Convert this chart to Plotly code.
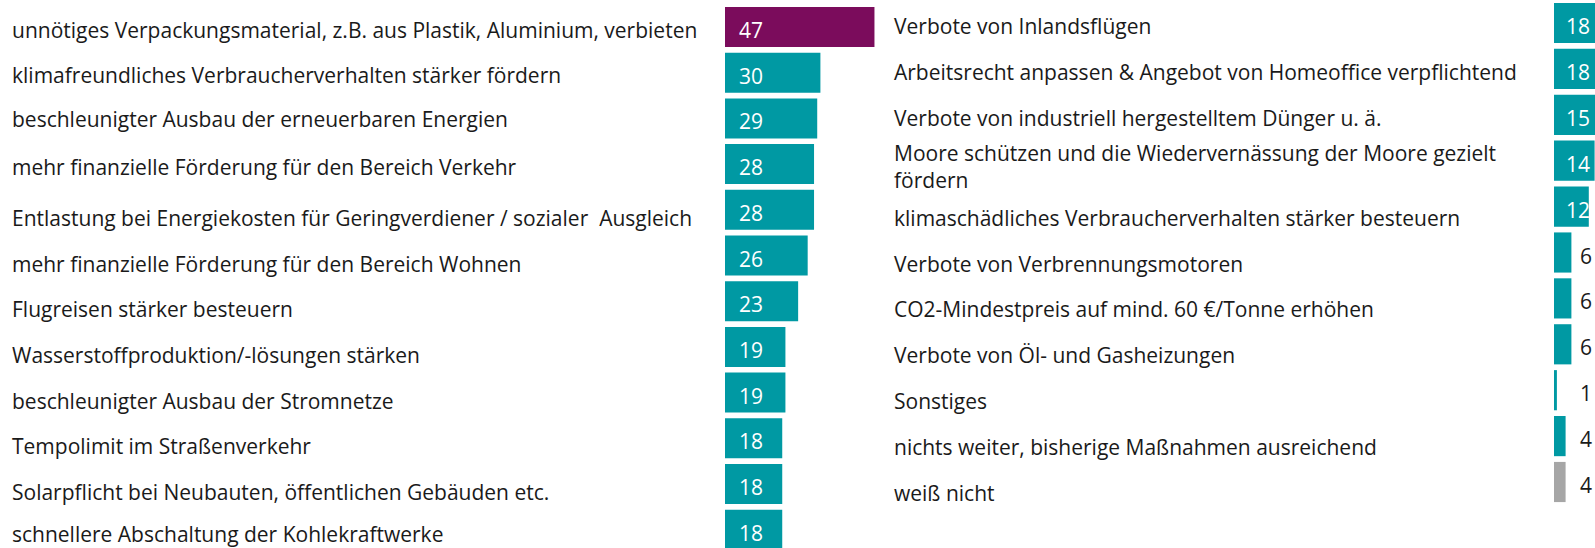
import plotly.graph_objects as go

left_labels = [
    "unnötiges Verpackungsmaterial, z.B. aus Plastik, Aluminium, verbieten",
    "klimafreundliches Verbraucherverhalten stärker fördern",
    "beschleunigter Ausbau der erneuerbaren Energien",
    "mehr finanzielle Förderung für den Bereich Verkehr",
    "Entlastung bei Energiekosten für Geringverdiener / sozialer  Ausgleich",
    "mehr finanzielle Förderung für den Bereich Wohnen",
    "Flugreisen stärker besteuern",
    "Wasserstoffproduktion/-lösungen stärken",
    "beschleunigter Ausbau der Stromnetze",
    "Tempolimit im Straßenverkehr",
    "Solarpflicht bei Neubauten, öffentlichen Gebäuden etc.",
    "schnellere Abschaltung der Kohlekraftwerke",
]
left_values = [47, 30, 29, 28, 28, 26, 23, 19, 19, 18, 18, 18]

right_labels = [
    "Verbote von Inlandsflügen",
    "Arbeitsrecht anpassen & Angebot von Homeoffice verpflichtend",
    "Verbote von industriell hergestelltem Dünger u. ä.",
    "Moore schützen und die Wiedervernässung der Moore gezielt<br>fördern",
    "klimaschädliches Verbraucherverhalten stärker besteuern",
    "Verbote von Verbrennungsmotoren",
    "CO2-Mindestpreis auf mind. 60 €/Tonne erhöhen",
    "Verbote von Öl- und Gasheizungen",
    "Sonstiges",
    "nichts weiter, bisherige Maßnahmen ausreichend",
    "weiß nicht",
]
right_values = [18, 18, 15, 14, 12, 6, 6, 6, 1, 4, 4]

PURPLE = "#7B0C5C"
TEAL = "#0099A3"
GRAY = "#A6A6A6"
TXT = "#1A1A1A"
FONT = "Open Sans"
FS = 21

W, H = 1595, 548

# vertical text offsets (px) of the category texts relative to their bars
left_shift = [-3, -2, -1, -3, -8, -8, -8, -8, -8, -8, -8, -4]
right_shift = [-3, -3, -3, -6, -11, -11, -11, -11, -11, -11, -11]

left_colors = [PURPLE] + [TEAL] * (len(left_values) - 1)
right_colors = [TEAL] * (len(right_values) - 1) + [GRAY]

fig = go.Figure()
fig.add_trace(go.Bar(
    y=left_labels, x=left_values, orientation="h",
    marker=dict(color=left_colors, line=dict(width=0)),
    width=0.875, xaxis="x", yaxis="y", hoverinfo="skip",
))
fig.add_trace(go.Bar(
    y=right_labels, x=right_values, orientation="h",
    marker=dict(color=right_colors, line=dict(width=0)),
    width=0.875, xaxis="x2", yaxis="y2", hoverinfo="skip",
))

annotations = []
for i, (lab, v) in enumerate(zip(left_labels, left_values)):
    annotations.append(dict(
        xref="paper", yref="y", x=10 / W, y=lab, xanchor="left", yanchor="middle",
        text=lab, showarrow=False, font=dict(family=FONT, size=FS, color=TXT),
        yshift=left_shift[i],
    ))
    annotations.append(dict(
        xref="x", yref="y", x=0, y=lab, xanchor="left", yanchor="middle",
        text=str(v), showarrow=False, xshift=12, yshift=-3,
        font=dict(family=FONT, size=FS, color="white"),
    ))
for i, (lab, v) in enumerate(zip(right_labels, right_values)):
    annotations.append(dict(
        xref="paper", yref="y2", x=892 / W, y=lab, xanchor="left", yanchor="middle",
        text=lab, showarrow=False, font=dict(family=FONT, size=FS, color=TXT),
        yshift=right_shift[i], align="left",
    ))
    inside = v >= 10
    annotations.append(dict(
        xref="x2", yref="y2", x=0, y=lab, xanchor="left", yanchor="middle",
        text=str(v), showarrow=False, xshift=10 if inside else 24, yshift=-3,
        font=dict(family=FONT, size=FS, color="white" if inside else TXT),
    ))

x1_start = 725
x1_scale = 3.18
x1_range = 50
x2_start = 1554
x2_scale = 2.9
x2_range = (W - x2_start) / x2_scale

fig.update_layout(
    width=W, height=H,
    margin=dict(l=0, r=0, t=0, b=0),
    paper_bgcolor="white", plot_bgcolor="white",
    showlegend=False,
    annotations=annotations,
    xaxis=dict(domain=[x1_start / W, (x1_start + x1_scale * x1_range) / W],
               range=[0, x1_range], visible=False, fixedrange=True),
    yaxis=dict(domain=[0, 1], range=[(H - 27) / 45.7, -27 / 45.7], visible=False,
               type="category", categoryorder="array", categoryarray=left_labels),
    xaxis2=dict(domain=[x2_start / W, 1], range=[0, x2_range], visible=False),
    yaxis2=dict(domain=[0, 1], range=[(H - 23) / 45.9, -23 / 45.9], visible=False,
                type="category", categoryorder="array", categoryarray=right_labels,
                anchor="x2"),
)

fig.write_html(
    "out.html",
    config={"displayModeBar": False},
    post_script="document.body.style.margin='0';document.body.style.padding='0';document.body.style.overflow='hidden';",
)
